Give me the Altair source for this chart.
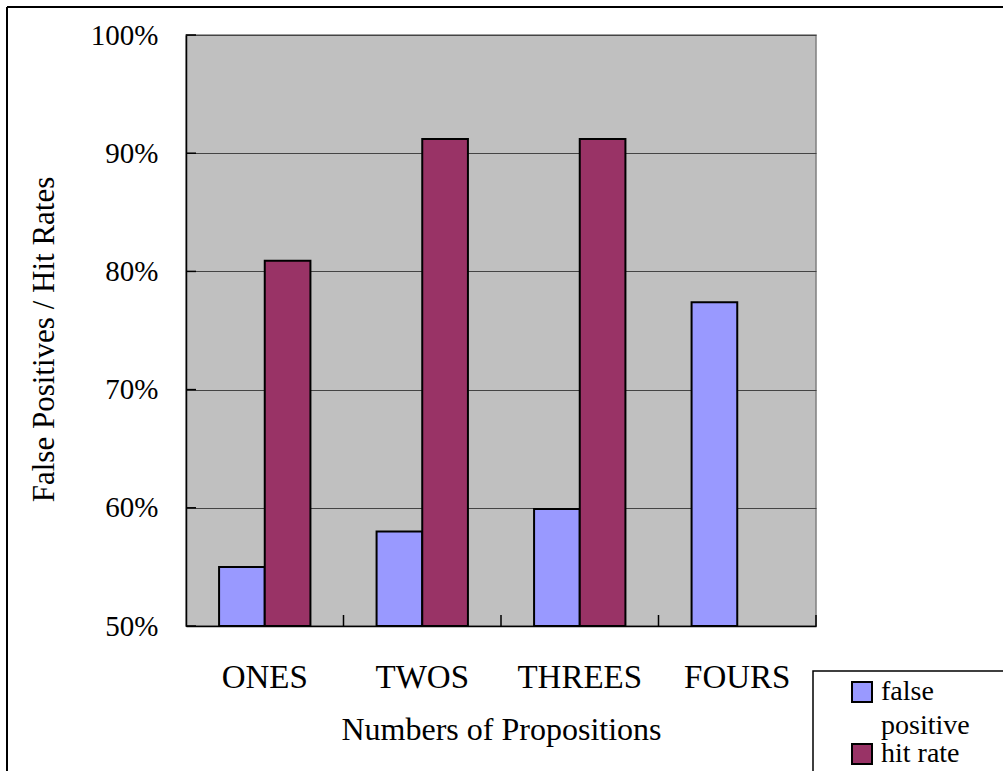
import altair as alt
import pandas as pd

# Chart values
categories = ["ONES", "TWOS", "THREES", "FOURS"]
false_positive = [0.550, 0.580, 0.599, 0.774]
hit_rate = [0.809, 0.912, 0.912, None]
series_names = ["false positive", "hit rate"]
series_colors = ["#9999FF", "#993366"]
y_ticks = [0.5, 0.6, 0.7, 0.8, 0.9, 1.0]

rows = []
for cat, fp, hr in zip(categories, false_positive, hit_rate):
    rows.append({"group": cat, "series": series_names[0], "rate": fp})
    if hr is not None:
        rows.append({"group": cat, "series": series_names[1], "rate": hr})
bars_df = pd.DataFrame(rows)

FONT = "Liberation Serif"
W, H = 630, 591
PAD = {"left": 186, "top": 35, "right": 187, "bottom": 145}
BAND_PAD = 0.42
STEP = W / len(categories)

x_scale = alt.Scale(domain=categories, paddingInner=BAND_PAD, paddingOuter=BAND_PAD / 2)
y_scale = alt.Scale(domain=[y_ticks[0], y_ticks[-1]], zero=False, nice=False)

bars = alt.Chart(bars_df).mark_bar(stroke="black", strokeWidth=2).encode(
    x=alt.X(
        "group:N", scale=x_scale, sort=categories,
        axis=alt.Axis(
            title="Numbers of Propositions", labelAngle=0, ticks=False, tickSize=0,
            labelPadding=35, labelFontSize=33, titleFontSize=32, titlePadding=20,
            domainColor="black", domainWidth=1.5,
            labelFont=FONT, titleFont=FONT,
        ),
    ),
    xOffset=alt.XOffset("series:N", sort=series_names,
                        scale=alt.Scale(domain=series_names)),
    y=alt.Y(
        "rate:Q", scale=y_scale,
        axis=alt.Axis(
            values=y_ticks, format=".0%", title="False Positives / Hit Rates",
            ticks=False, tickSize=0, labelPadding=28, labelFontSize=29,
            grid=True, gridColor="#444444", gridWidth=1,
            domainColor="black", domainWidth=1.5,
            labelFont=FONT, titleFont=FONT,
            titleFontSize=31, titleAngle=270, titleX=-133, titleY=304,
            titleAlign="center", titleBaseline="alphabetic",
        ),
    ),
    y2=alt.datum(y_ticks[0]),
    color=alt.Color(
        "series:N",
        scale=alt.Scale(domain=series_names, range=series_colors),
        legend=alt.Legend(
            title=None, orient="none", legendX=627, legendY=635,
            direction="vertical", symbolType="square", symbolSize=400,
            symbolStrokeColor="black", symbolStrokeWidth=2, symbolOpacity=1,
            symbolOffset=27, labelOffset=5, labelFontSize=28, labelFont=FONT,
            labelLimit=300, rowPadding=-6,
            labelExpr="datum.label == 'false positive' ? ['false', 'positive'] : datum.label",
            padding=8,
        ),
    ),
)

# white legend box, running off the right and bottom edges
legend_box = alt.Chart(alt.Data(values=[{"k": 1}])).mark_rect(
    fill="white", stroke="black", strokeWidth=1.5
).encode(
    x=alt.value(627),
    x2=alt.value(W + PAD["right"] + 20),
    y=alt.value(636),
    y2=alt.value(H + PAD["bottom"] + 20),
)

# short inward ticks on the value axis
y_tick_marks = alt.Chart(pd.DataFrame({"rate": y_ticks})).mark_rule(
    color="black", strokeWidth=1.5
).encode(
    y=alt.Y("rate:Q", scale=y_scale),
    x=alt.value(0),
    x2=alt.value(10),
)

# short inward ticks at the category boundaries (midway between bands)
x_tick_marks = alt.Chart(pd.DataFrame({"group": categories})).mark_rule(
    color="black", strokeWidth=1.5, xOffset=STEP * BAND_PAD / 2
).encode(
    x=alt.X("group:N", sort=categories, bandPosition=1),
    y=alt.value(H - 11),
    y2=alt.value(H),
)

# outer frame (left and top edges)
frame_left = alt.Chart(alt.Data(values=[{"k": 1}])).mark_rule(
    color="black", strokeWidth=2
).encode(
    x=alt.value(7 - PAD["left"]),
    y=alt.value(7 - PAD["top"]),
    y2=alt.value(H + PAD["bottom"]),
)
frame_top = alt.Chart(alt.Data(values=[{"k": 1}])).mark_rule(
    color="black", strokeWidth=2
).encode(
    x=alt.value(7 - PAD["left"]),
    x2=alt.value(W + PAD["right"]),
    y=alt.value(7 - PAD["top"]),
)

chart = (
    alt.layer(legend_box, bars, y_tick_marks, x_tick_marks, frame_left, frame_top)
    .properties(
        width=W, height=H, padding=PAD,
        autosize=alt.AutoSizeParams(type="none"),
        background="white",
    )
    .configure(style={"guide-label": {"font": FONT, "lineHeight": 34},
                      "guide-title": {"font": FONT}})
    .configure_view(fill="#C0C0C0", stroke="#808080", strokeWidth=1.5)
    .configure_axis(
        labelFont=FONT, titleFont=FONT, labelColor="black", titleColor="black",
        titleFontWeight="normal",
    )
    .configure_legend(labelFont=FONT, labelColor="black")
)

chart.save("out.html", embed_options={"renderer": "svg", "actions": False})
